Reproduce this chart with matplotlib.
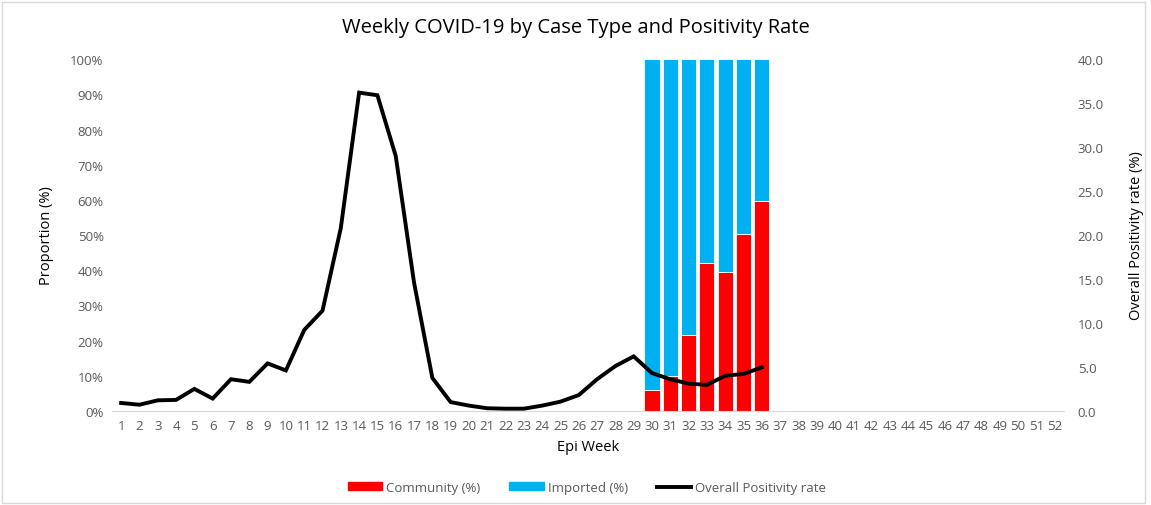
import matplotlib.pyplot as plt
import matplotlib.patches as mpatches
import numpy as np
from matplotlib.ticker import PercentFormatter, FormatStrFormatter

plt.rcParams["font.family"] = ["Open Sans", "DejaVu Sans"]

weeks = np.arange(1, 53)
bar_weeks = np.arange(30, 37)
community = np.array([6, 10, 21.5, 42, 39.5, 50.3, 59.7])
imported = 100 - community

positivity_weeks = np.arange(1, 37)
positivity = np.array([
    0.9, 0.7, 1.2, 1.25, 2.5, 1.4, 3.6, 3.3, 5.4, 4.6,
    9.2, 11.4, 20.8, 36.2, 35.9, 29.0, 14.6, 3.75, 1.0, 0.6,
    0.3, 0.25, 0.25, 0.6, 1.05, 1.8, 3.6, 5.1, 6.2, 4.3,
    3.6, 3.1, 2.95, 4.0, 4.2, 4.95,
])

red = "#ff0000"
blue = "#00b0f0"
grey = "#595959"

fig = plt.figure(figsize=(11.51, 5.06), dpi=100)
ax = fig.add_axes([0.0973, 0.186, 0.827, 0.695])

ax.bar(bar_weeks, community, width=0.82, color=red, edgecolor="white", linewidth=0.6)
ax.bar(bar_weeks, imported, bottom=community, width=0.82, color=blue,
       edgecolor="white", linewidth=0.6)
ax.set_ylim(0, 100)
ax.set_xlim(0.5, 52.5)
ax.set_xticks(weeks)
ax.set_yticks(np.arange(0, 101, 10))
ax.yaxis.set_major_formatter(PercentFormatter(decimals=0))
ax.tick_params(length=0, labelsize=9.5, labelcolor=grey, pad=6)
for s in ["top", "right", "left"]:
    ax.spines[s].set_visible(False)
ax.spines["bottom"].set_color("#d9d9d9")
ax.set_ylabel("Proportion (%)", fontsize=10.5, color="black", labelpad=12)
ax.set_xlabel("Epi Week", fontsize=10.5, color="black", labelpad=5)

ax2 = ax.twinx()
ax2.plot(positivity_weeks, positivity, color="black", linewidth=2.8, solid_joinstyle="miter")
ax2.set_ylim(0, 40)
ax2.set_yticks(np.arange(0, 41, 5))
ax2.yaxis.set_major_formatter(FormatStrFormatter("%.1f"))
ax2.tick_params(length=0, labelsize=9.5, labelcolor=grey, pad=10)
for s in ["top", "right", "left", "bottom"]:
    ax2.spines[s].set_visible(False)
ax2.set_ylabel("Overall Positivity rate (%)", fontsize=10.5, color="black", labelpad=18)

fig.suptitle("Weekly COVID-19 by Case Type and Positivity Rate", fontsize=14.5, y=0.965)

handles = [
    mpatches.Patch(color=red, label="Community (%)"),
    mpatches.Patch(color=blue, label="Imported (%)"),
    plt.Line2D([], [], color="black", linewidth=2.8, label="Overall Positivity rate"),
]
leg = fig.legend(handles=handles, loc="center", bbox_to_anchor=(0.51, 0.035), ncol=3,
                 frameon=False, fontsize=9.5, handlelength=2.6, handleheight=0.5,
                 columnspacing=2.2, handletextpad=0.3)
for t in leg.get_texts():
    t.set_color(grey)

fig.patches.append(mpatches.Rectangle((0.002, 0.004), 0.993, 0.99, transform=fig.transFigure,
                                      fill=False, edgecolor="#d9d9d9", linewidth=1))

fig.savefig("out.png", dpi=100)
